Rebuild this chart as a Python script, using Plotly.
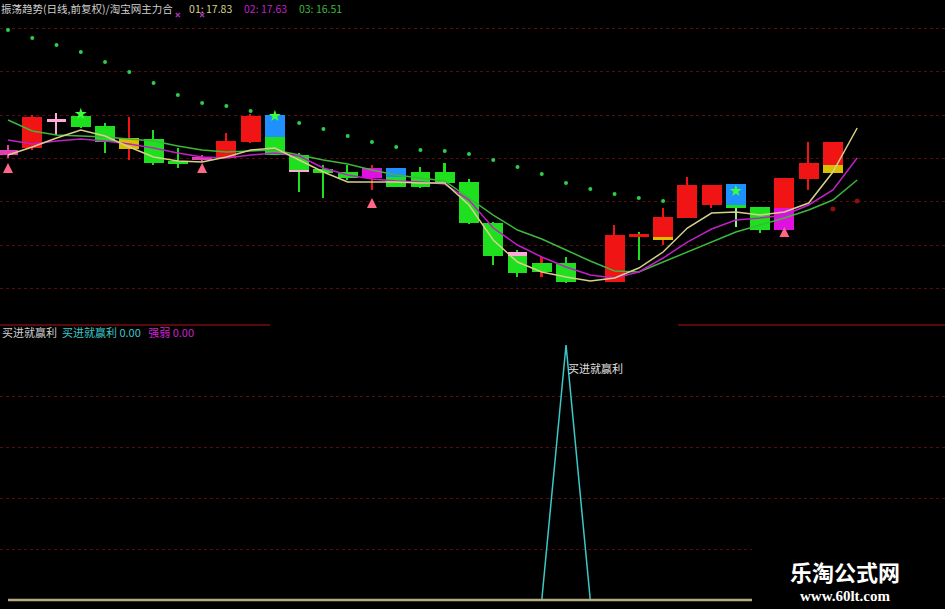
import plotly.graph_objects as go

# ---------------- data ----------------
idx = list(range(36))

body_hi = [18.50, 18.83, 18.81, 18.84, 18.74, 18.62, 18.61, 18.38, 18.43, 18.59, 18.84, 18.85,
           18.45, 18.31, 18.28, 18.32, 18.32, 18.28, 18.28, 18.18, 17.77, 17.48, 17.37, 17.37,
           None, 17.65, 17.66, 17.83, 18.15, 18.15, 18.16, 17.93, 18.22, 18.37, 18.58, None]
body_lo = [18.45, 18.52, 18.78, 18.73, 18.58, 18.51, 18.37, 18.36, 18.40, 18.42, 18.58, 18.45,
           18.28, 18.27, 18.22, 18.22, 18.13, 18.13, 18.17, 17.77, 17.44, 17.27, 17.28, 17.18,
           None, 17.18, 17.63, 17.60, 17.82, 17.95, 17.92, 17.70, 17.70, 18.21, 18.27, None]
wick_hi = [18.55, 18.85, 18.87, 18.88, 18.77, 18.83, 18.70, 18.52, 18.45, 18.67, 18.86, 18.87,
           18.47, 18.35, 18.35, 18.35, 18.32, 18.33, 18.37, 18.21, 17.78, 17.50, 17.43, 17.43,
           None, 17.75, 17.68, 17.92, 18.23, 18.15, 18.16, 17.93, 18.22, 18.58, 18.58, None]
wick_lo = [18.42, 18.50, 18.65, 18.72, 18.47, 18.40, 18.35, 18.32, 18.38, 18.42, 18.57, 18.45,
           18.08, 18.02, 18.20, 18.10, 18.13, 18.12, 18.16, 17.76, 17.35, 17.23, 17.23, 17.17,
           None, 17.18, 17.40, 17.55, 17.82, 17.92, 17.73, 17.67, 17.70, 18.10, 18.27, None]
body_kind = ["pink", "red", "lpink", "green", "green", "yellow", "green", "green", "pink", "red",
             "red", "green", "green", "green", "green", "magenta", "green", "green", "green",
             "green", "green", "green", "green", "green", None, "red", "red", "red", "red", "red",
             "green", "green", "red", "red", "red", None]
wick_kind = ["pink", "red", "lpink", "green", "green", "red", "green", "green", "pink", "red",
             "red", "green", "green", "green", "green", "red", "green", "green", "green",
             "green", "green", "green", "red", "green", None, "red", "green", "red", "red", "red",
             "lgreen", "green", "red", "red", "red", None]

# signal overlays painted on some bodies
ov_idx = [11, 12, 16, 21, 27, 30, 32, 34]
ov_hi = [18.85, 18.30, 18.32, 17.48, 17.63, 18.16, 17.92, 18.35]
ov_lo = [18.63, 18.28, 18.23, 17.44, 17.60, 17.95, 17.70, 18.27]
ov_kind = ["blue", "lpink", "blue", "lpink", "yellow", "blue", "magenta", "yellow"]

ma1 = [18.45, 18.53, 18.62, 18.70, 18.64, 18.53, 18.43, 18.39, 18.38, 18.43, 18.50, 18.52,
       18.40, 18.28, 18.18, 18.18, 18.18, 18.17, 18.17, 17.95, 17.60, 17.38, 17.28, 17.23,
       17.19, 17.22, 17.32, 17.48, 17.72, 17.87, 17.88, 17.85, 17.88, 17.97, 18.28, 18.72]
ma2 = [18.60, 18.56, 18.59, 18.61, 18.59, 18.56, 18.52, 18.47, 18.43, 18.42, 18.45, 18.47,
       18.44, 18.32, 18.25, 18.21, 18.19, 18.18, 18.16, 18.00, 17.72, 17.55, 17.43, 17.33,
       17.25, 17.22, 17.28, 17.42, 17.58, 17.71, 17.80, 17.82, 17.85, 17.95, 18.10, 18.42]
ma3 = [18.80, 18.69, 18.65, 18.64, 18.63, 18.61, 18.59, 18.54, 18.50, 18.48, 18.49, 18.50,
       18.45, 18.40, 18.36, 18.30, 18.25, 18.22, 18.19, 18.02, 17.85, 17.70, 17.61, 17.50,
       17.39, 17.29, 17.28, 17.38, 17.48, 17.58, 17.68, 17.75, 17.82, 17.90, 18.00, 18.20]

sar_green = [19.70, 19.62, 19.55, 19.48, 19.38, 19.28, 19.17, 19.05, 18.97, 18.94, 18.89, None,
             18.77, 18.71, 18.64, 18.58, 18.53, 18.50, 18.49, 18.46, 18.40, 18.33, 18.26, 18.17,
             18.11, 18.06, 18.02, 17.99]
sar_red_idx = [34, 35]
sar_red = [17.91, 17.99]

up_idx = [3, 11, 30]
up_val = [18.86, 18.84, 18.09]
dn_idx = [0, 8, 15, 32]
dn_val = [18.37, 18.37, 18.02, 17.73]
x_idx = [7, 8]
x_val = [19.85, 19.85]

buy_signal = [0] * 23 + [1] + [0] * 12
strength = [0] * 36

header_name = "振荡趋势(日线,前复权)/淘宝网主力合"
header_vals = ["01: 17.83", "02: 17.63", "03: 16.51"]

# ---------------- styling ----------------
COL = {"red": "#f01414", "green": "#1ee01e", "blue": "#1e90ff", "yellow": "#d8c000",
       "magenta": "#e010e0", "pink": "#e040b0", "lpink": "#ffa8dc", "lgreen": "#90ee90"}
CJK = "Noto Sans CJK SC"

fig = go.Figure()

# moving averages (behind candles)
for vals, c in [(ma3, "#3cb83c"), (ma2, "#c020c8"), (ma1, "#d8d08a")]:
    fig.add_trace(go.Scatter(x=idx, y=vals, mode="lines", line=dict(color=c, width=1.5),
                             hoverinfo="skip", xaxis="x", yaxis="y"))

def heights(hi, lo):
    return [None if h is None else round(h - l, 4) for h, l in zip(hi, lo)]

def colors(kinds):
    return [COL.get(k, "rgba(0,0,0,0)") if k else "rgba(0,0,0,0)" for k in kinds]

# wicks
fig.add_trace(go.Bar(x=idx, y=heights(wick_hi, wick_lo), base=wick_lo, width=0.065,
                     marker=dict(color=colors(wick_kind), line=dict(width=0)),
                     hoverinfo="skip", xaxis="x", yaxis="y"))
# bodies (min visible thickness)
bh = [None if h is None else max(h, 0.035) for h in heights(body_hi, body_lo)]
fig.add_trace(go.Bar(x=idx, y=bh, base=body_lo, width=0.82,
                     marker=dict(color=colors(body_kind), line=dict(width=0)),
                     hoverinfo="skip", xaxis="x", yaxis="y"))
# overlays
fig.add_trace(go.Bar(x=ov_idx, y=heights(ov_hi, ov_lo), base=ov_lo, width=0.82,
                     marker=dict(color=colors(ov_kind), line=dict(width=0)),
                     hoverinfo="skip", xaxis="x", yaxis="y"))

# markers on overlay axes (drawn above candles)
fig.add_trace(go.Scatter(x=idx[:len(sar_green)], y=sar_green, mode="markers",
                         marker=dict(color="#2ccf4a", size=4), hoverinfo="skip",
                         xaxis="x3", yaxis="y3"))
fig.add_trace(go.Scatter(x=sar_red_idx, y=sar_red, mode="markers",
                         marker=dict(color="#8a1010", size=5), hoverinfo="skip",
                         xaxis="x3", yaxis="y3"))
fig.add_trace(go.Scatter(x=up_idx, y=up_val, mode="markers",
                         marker=dict(color="#3cff3c", size=9, symbol="star"),
                         hoverinfo="skip", xaxis="x3", yaxis="y3"))
fig.add_trace(go.Scatter(x=dn_idx, y=dn_val, mode="markers",
                         marker=dict(color="#ff6688", size=10, symbol="arrow-up"),
                         hoverinfo="skip", xaxis="x3", yaxis="y3"))
fig.add_trace(go.Scatter(x=x_idx, y=x_val, mode="markers",
                         marker=dict(color="#a030b0", size=4, symbol="x-thin",
                                     line=dict(color="#a030b0", width=1.5)),
                         hoverinfo="skip", xaxis="x3", yaxis="y3"))

# bottom indicator
fig.add_trace(go.Scatter(x=idx, y=buy_signal, mode="lines", line=dict(color="#3cc8c8", width=1.5),
                         hoverinfo="skip", xaxis="x2", yaxis="y2"))
fig.add_trace(go.Scatter(x=idx, y=strength, mode="lines", line=dict(color="#b4ac80", width=2.5),
                         hoverinfo="skip", xaxis="x2", yaxis="y2"))

XR = [-0.33, 38.62]
TOP_DOM = [0.4663, 1.0]
BOT_DOM = [0.0, 0.4663]
grid = dict(showgrid=True, gridcolor="#5a0c0c", griddash="dot", gridwidth=1,
            showticklabels=False, zeroline=False, showline=False, ticks="")

fig.update_layout(
    width=945, height=609, margin=dict(l=0, r=0, t=0, b=0),
    paper_bgcolor="black", plot_bgcolor="black", showlegend=False,
    barmode="overlay", bargap=0,
    xaxis=dict(range=XR, visible=False, anchor="y"),
    yaxis=dict(range=[16.75, 20.0], domain=TOP_DOM, anchor="x", tickmode="linear",
               tick0=19.715, dtick=0.433, **grid),
    xaxis2=dict(range=XR, visible=False, anchor="y2"),
    yaxis2=dict(range=[-0.0353, 1.0784], domain=BOT_DOM, anchor="x2",
                tickmode="array", tickvals=[0.2, 0.4, 0.6, 0.8], **grid),
    xaxis3=dict(range=XR, visible=False, overlaying="x", anchor="y3"),
    yaxis3=dict(range=[16.75, 20.0], visible=False, overlaying="y", anchor="x3"),
)

# separator line and watermark box
fig.add_shape(type="line", xref="paper", yref="paper", x0=0, x1=270 / 945, y0=0.4663, y1=0.4663,
              line=dict(color="#b01414", width=1))
fig.add_shape(type="line", xref="paper", yref="paper", x0=678 / 945, x1=1, y0=0.4663, y1=0.4663,
              line=dict(color="#b01414", width=1))
fig.add_shape(type="rect", xref="paper", yref="paper", x0=752 / 945, x1=1, y0=0, y1=64 / 609,
              fillcolor="black", line=dict(width=0), layer="above")

# header texts
sp1 = "&nbsp;" * 7
sp = "&nbsp;" * 5
top_txt = (f"<span style='color:#d0d0d0'>{header_name}</span>{sp1}"
           f"<span style='color:#d8d08a'>{header_vals[0]}</span>{sp}"
           f"<span style='color:#c020c8'>{header_vals[1]}</span>{sp}"
           f"<span style='color:#3cb83c'>{header_vals[2]}</span>")
fig.add_annotation(text=top_txt, xref="paper", yref="paper", x=0, y=1,
                   xanchor="left", yanchor="top", showarrow=False, borderpad=0,
                   font=dict(family=CJK, size=10.5, color="#d0d0d0"))
bot_txt = ("<span style='color:#d0d0d0'>买进就赢利</span>&nbsp;&nbsp;"
           "<span style='color:#3cc8c8'>买进就赢利 0.00</span>&nbsp;&nbsp;&nbsp;"
           "<span style='color:#d020d0'>强弱 0.00</span>")
fig.add_annotation(text=bot_txt, xref="paper", yref="paper", x=0, y=(609 - 332) / 609,
                   xanchor="left", yanchor="middle", showarrow=False,
                   font=dict(family=CJK, size=11, color="#d0d0d0"))
fig.add_annotation(text="买进就赢利", xref="paper", yref="paper", x=566 / 945, y=(609 - 368) / 609,
                   xanchor="left", yanchor="middle", showarrow=False,
                   font=dict(family=CJK, size=11, color="#e0e0e0"))
fig.add_annotation(text="<b>乐淘公式网</b>", xref="paper", yref="paper", x=845 / 945,
                   y=(609 - 571) / 609, xanchor="center", yanchor="middle", showarrow=False,
                   font=dict(family=CJK, size=22, color="white"))
fig.add_annotation(text="<b>www.60lt.com</b>", xref="paper", yref="paper", x=845 / 945,
                   y=(609 - 596) / 609, xanchor="center", yanchor="middle", showarrow=False,
                   font=dict(family="Liberation Serif", size=15, color="white"))

fig.write_html("out.html", config={"displayModeBar": False},
               post_script="document.body.style.margin='0';document.body.style.overflow='hidden';")
